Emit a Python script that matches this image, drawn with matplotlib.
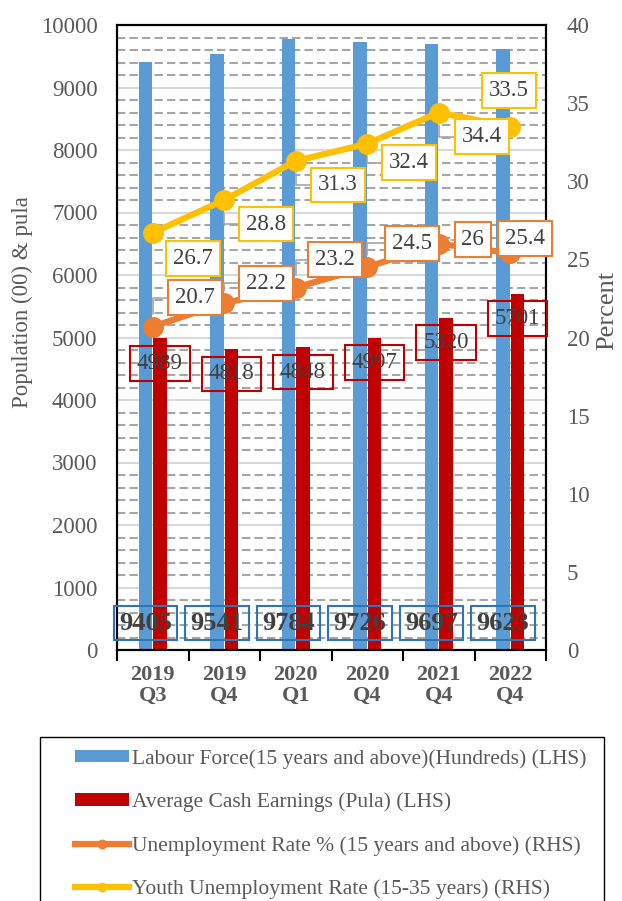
import numpy as np
import matplotlib
matplotlib.use('Agg')
import matplotlib.pyplot as plt
from matplotlib.lines import Line2D
from matplotlib.patches import Patch, Rectangle

plt.rcParams['font.family'] = ['Liberation Serif', 'DejaVu Serif']

# Labour market indicators by quarter
quarters = ['2019\nQ3', '2019\nQ4', '2020\nQ1', '2020\nQ4', '2021\nQ4', '2022\nQ4']
labour_force = [9405, 9541, 9784, 9726, 9697, 9623]        # hundreds
cash_earnings = [4989, 4818, 4848, 4997, 5320, 5701]       # pula
unemployment = [20.7, 22.2, 23.2, 24.5, 26, 25.4]          # percent
youth_unemployment = [26.7, 28.8, 31.3, 32.4, 34.4, 33.5]  # percent

# label placement for the two rate series (pixel offsets from the point)
unemp_offsets = [(42, 29), (42, 20), (39, 28), (45, 24), (34, 4), (15, 15)]
youth_offsets = [(40, -26), (42, -24), (42, -24), (42, -19), (43, -24), (-1, 36)]
unemp_leader = [True, True, True, True, True, False]
youth_leader = [False, True, True, True, True, False]

BLUE = '#5B9BD5'
RED = '#C00000'
ORANGE = '#ED7D31'
YELLOW = '#FFC000'
TXT = '#404040'
TICK = '#595959'
FS = 16.5

fig = plt.figure(figsize=(6.22, 9.01), dpi=100)
ax = fig.add_axes([117/622, 1-650/901, 429/622, 625/901])
ax2 = ax.twinx()

x = np.arange(len(quarters))
ax.bar(x - 0.1, labour_force, width=0.19, color=BLUE, zorder=2)
ax.bar(x + 0.1, cash_earnings, width=0.19, color=RED, zorder=2)

ax.set_xlim(-0.5, 5.5)
ax.set_ylim(0, 10000)
ax.set_yticks(np.arange(0, 10001, 1000))
ax.set_yticks(np.arange(0, 10001, 200), minor=True)
ax.set_axisbelow(True)
ax.yaxis.grid(True, which='major', color='#D9D9D9', lw=1.5)
ax.yaxis.grid(True, which='minor', color='#A6A6A6', lw=1.5, linestyle=(0, (4, 2)))

ax.set_xticks(x)
ax.set_xticklabels(quarters, fontsize=16, fontweight='bold', color=TICK, linespacing=1.05)
ax.set_xticks(np.arange(-0.5, 6, 1), minor=True)
ax.tick_params(axis='x', which='major', length=0, pad=11)
ax.tick_params(axis='x', which='minor', length=8, width=1.5, color='black')
ax.tick_params(axis='y', which='both', length=0, pad=14, labelsize=FS, labelcolor=TICK)

ax2.set_ylim(0, 40)
ax2.set_yticks(np.arange(0, 41, 5))
ax2.tick_params(axis='y', length=0, pad=15, labelsize=FS, labelcolor=TICK)

for a in (ax, ax2):
    for s in a.spines.values():
        s.set_color('black')
        s.set_linewidth(1.5)

ax.set_ylabel('Population (00) & pula', fontsize=FS, color=TICK)
ax.yaxis.set_label_coords(-0.196, 0.557)
ax2.set_ylabel('Percent', fontsize=19, color=TICK)
ax2.yaxis.set_label_coords(1.118, 0.544)

# rate lines on the right-hand axis
ax2.plot(x, unemployment, color=ORANGE, lw=4.5, marker='o', ms=14, zorder=3)
ax2.plot(x, youth_unemployment, color=YELLOW, lw=4.5, marker='o', ms=14, zorder=3)

# bar value labels
for i, v in enumerate(labour_force):
    ax2.annotate(f'{v}', xy=(i - 0.1, 0), xycoords=ax.transData, xytext=(0, 27),
                 textcoords='offset pixels', ha='center', va='center', fontsize=19,
                 fontweight='bold', color=TXT, zorder=5,
                 bbox=dict(boxstyle='square,pad=0.2', fc='none', ec='#2E75B6', lw=1.5))
for i, v in enumerate(cash_earnings):
    ax2.annotate(f'{v}', xy=(i + 0.1, v), xycoords=ax.transData, xytext=(0, -25),
                 textcoords='offset pixels', ha='center', va='center', fontsize=FS,
                 color=TXT, zorder=5,
                 bbox=dict(boxstyle='square,pad=0.3', fc='none', ec=RED, lw=1.5))


def rate_labels(values, offsets, leaders, color):
    for i, (v, off, lead) in enumerate(zip(values, offsets, leaders)):
        arrow = None
        if lead:
            arrow = dict(arrowstyle='-', color='#A6A6A6', lw=1.2, shrinkA=0, shrinkB=9,
                         connectionstyle='angle,angleA=0,angleB=90,rad=0')
        ax2.annotate(f'{v:g}', xy=(i, v), xytext=off, textcoords='offset pixels',
                     ha='center', va='center', fontsize=FS, color=TXT, zorder=5,
                     bbox=dict(boxstyle='square,pad=0.3', fc='white', ec=color, lw=1.5),
                     arrowprops=arrow)


rate_labels(unemployment, unemp_offsets, unemp_leader, ORANGE)
rate_labels(youth_unemployment, youth_offsets, youth_leader, YELLOW)

# legend below the chart
fig.add_artist(Rectangle((40/622, -0.05), 564/622, 0.05 + 1 - 737/901,
                         transform=fig.transFigure, fill=False, ec='black', lw=1))
handles = [Patch(facecolor=BLUE), Patch(facecolor=RED),
           Line2D([], [], color=ORANGE, lw=4.5, marker='o', ms=6),
           Line2D([], [], color=YELLOW, lw=4.5, marker='o', ms=6)]
labels = ['Labour Force(15 years and above)(Hundreds) (LHS)',
          'Average Cash Earnings (Pula) (LHS)',
          'Unemployment Rate % (15 years and above) (RHS)',
          'Youth Unemployment Rate (15-35 years) (RHS)']
fig.legend(handles, labels, loc='upper left', bbox_to_anchor=(75/622, 1 - 749/901),
           frameon=False, fontsize=15.5, labelcolor=TICK, handlelength=2.5,
           handleheight=0.5, handletextpad=0.15, labelspacing=1.1,
           borderpad=0, borderaxespad=0)

fig.savefig('out.png', dpi=100)
